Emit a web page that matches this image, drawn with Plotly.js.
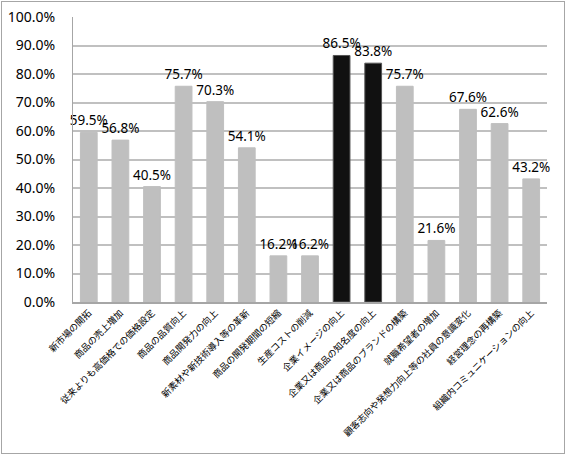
<!DOCTYPE html>
<html>
<head>
<meta charset="utf-8">
<script src="https://cdn.plot.ly/plotly-3.0.1.min.js"></script>
<style>
html,body{margin:0;padding:0;background:#fff;}
#frame{position:absolute;left:1px;top:1px;width:564px;height:453px;border:1px solid #a6a6a6;box-sizing:border-box;}
#chart{position:absolute;left:0;top:0;width:567px;height:456px;}
</style>
</head>
<body>
<div id="frame"></div>
<div id="chart"></div>
<script>
var categories = [
  "新市場の開拓",
  "商品の売上増加",
  "従来よりも高価格での価格設定",
  "商品の品質向上",
  "商品開発力の向上",
  "新素材や新技術導入等の革新",
  "商品の開発期間の短縮",
  "生産コストの削減",
  "企業イメージの向上",
  "企業又は商品の知名度の向上",
  "企業又は商品のブランドの構築",
  "就職希望者の増加",
  "顧客志向や発想力向上等の社員の意識変化",
  "経営理念の再構築",
  "組織内コミュニケーションの向上"
];
var values = [59.5, 56.8, 40.5, 75.7, 70.3, 54.1, 16.2, 16.2, 86.5, 83.8, 75.7, 21.6, 67.6, 62.6, 43.2];
var highlighted = [8, 9];
var tickValues = [0, 10, 20, 30, 40, 50, 60, 70, 80, 90, 100];
var tickLabels = ["0.0%", "10.0%", "20.0%", "30.0%", "40.0%", "50.0%", "60.0%", "70.0%", "80.0%", "90.0%", "100.0%"];

var colors = values.map(function(v, i){ return highlighted.indexOf(i) >= 0 ? "#111111" : "#bfbfbf"; });
var lineColors = values.map(function(v, i){ return highlighted.indexOf(i) >= 0 ? "#555555" : "#bfbfbf"; });

var trace = {
  type: "bar",
  x: categories,
  y: values,
  text: values.map(function(v){ return v.toFixed(1) + "%"; }),
  textposition: "outside",
  constraintext: "none",
  cliponaxis: false,
  textfont: {family: "Noto Sans, DejaVu Sans, sans-serif", size: 13.5, color: "#000"},
  marker: {color: colors, line: {color: lineColors, width: 1}},
  hoverinfo: "none"
};

var layout = {
  width: 567, height: 456,
  margin: {l: 73, r: 20, t: 17, b: 154},
  paper_bgcolor: "rgba(0,0,0,0)",
  plot_bgcolor: "#fff",
  showlegend: false,
  bargap: 0.47,
  font: {family: "Noto Sans CJK JP, sans-serif", color: "#000"},
  xaxis: {
    type: "category",
    tickangle: -45,
    tickfont: {family: "Noto Sans CJK JP, sans-serif", size: 9.2, color: "#000"},
    showline: true, linecolor: "#a6a6a6", linewidth: 2,
    ticks: "", showgrid: false,
    automargin: false
  },
  yaxis: {
    range: [0, 100],
    tickvals: tickValues,
    ticktext: tickLabels,
    tickfont: {family: "Noto Sans, DejaVu Sans, sans-serif", size: 14, color: "#000"},
    ticklabelstandoff: 14,
    showgrid: true, gridcolor: "#c0c0c0", gridwidth: 2,
    showline: true, linecolor: "#a6a6a6", linewidth: 1,
    ticks: "", ticklen: 0,
    zeroline: false,
    automargin: false
  }
};

Plotly.newPlot("chart", [trace], layout, {staticPlot: true, displayModeBar: false});
</script>
</body>
</html>
